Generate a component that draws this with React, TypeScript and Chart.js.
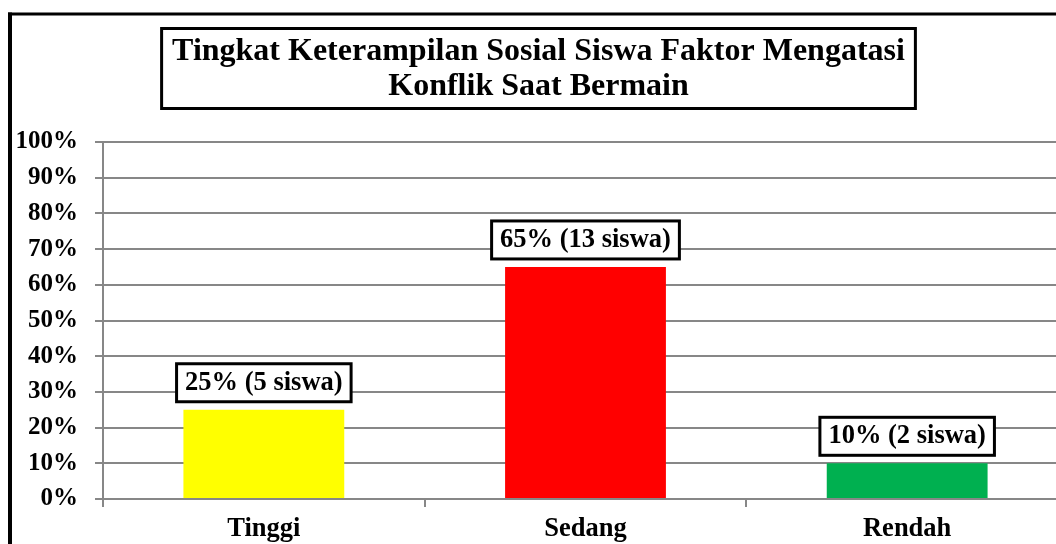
import React, { useEffect, useRef } from "react";
import { Chart, registerables } from "chart.js";

Chart.register(...registerables);

const categories = ["Tinggi", "Sedang", "Rendah"];
const percentages = [25, 65, 10];
const studentCounts = [5, 13, 2];
const barColors = ["#FFFF00", "#FF0000", "#00B050"];
const titleLines = ["Tingkat Keterampilan Sosial Siswa Faktor Mengatasi", "Konflik Saat Bermain"];

const FONT = '"Liberation Serif", "Times New Roman", serif';
const GRID = "#878787";
const W = 1078;
const H = 560;
const TITLE_PAD_TOP = 34.4;

const framePlugin = {
  id: "frame",
  afterDraw(chart: any) {
    const ctx = chart.ctx;
    ctx.save();
    // outer chart border (top and left visible)
    ctx.strokeStyle = "#000";
    ctx.lineWidth = 3;
    ctx.beginPath();
    ctx.moveTo(8, 14);
    ctx.lineTo(W, 14);
    ctx.stroke();
    ctx.lineWidth = 4;
    ctx.beginPath();
    ctx.moveTo(10, 12.5);
    ctx.lineTo(10, H);
    ctx.stroke();
    // title box
    const tb = chart.titleBlock;
    if (tb) {
      ctx.font = `bold 32px ${FONT}`;
      let maxW = 0;
      titleLines.forEach((t) => {
        maxW = Math.max(maxW, ctx.measureText(t).width);
      });
      const cx = (tb.left + tb.right) / 2;
      const left = cx - maxW / 2 - 10.5;
      const right = cx + maxW / 2 + 10.5;
      const top = tb.top + TITLE_PAD_TOP - 5.9;
      const bottom = tb.top + TITLE_PAD_TOP + 74.1;
      ctx.lineWidth = 3;
      ctx.strokeRect(left, top, right - left, bottom - top);
    }
    ctx.restore();
  },
};

const labelPlugin = {
  id: "barLabels",
  afterDatasetsDraw(chart: any) {
    const ctx = chart.ctx;
    const meta = chart.getDatasetMeta(0);
    ctx.save();
    ctx.font = `bold 26.5px ${FONT}`;
    meta.data.forEach((bar: any, i: number) => {
      const text = `${percentages[i]}% (${studentCounts[i]} siswa)`;
      const w = ctx.measureText(text).width + 17;
      const h = 38;
      const x = bar.x;
      const bottom = bar.y - 8;
      ctx.fillStyle = "#fff";
      ctx.fillRect(x - w / 2, bottom - h, w, h);
      ctx.lineWidth = 3;
      ctx.strokeStyle = "#000";
      ctx.strokeRect(x - w / 2, bottom - h, w, h);
      ctx.fillStyle = "#000";
      ctx.textAlign = "center";
      ctx.textBaseline = "middle";
      ctx.fillText(text, x, bottom - h / 2);
    });
    ctx.restore();
  },
};

export default function App() {
  const ref = useRef<HTMLCanvasElement | null>(null);
  useEffect(() => {
    if (!ref.current) return;
    const chart = new Chart(ref.current, {
      type: "bar",
      data: {
        labels: categories,
        datasets: [
          {
            data: percentages,
            backgroundColor: barColors,
            borderWidth: 0,
            barPercentage: 0.5,
            categoryPercentage: 1.0,
          },
        ],
      },
      options: {
        responsive: false,
        animation: false,
        layout: { padding: { left: 9, right: W - 1068, top: 0, bottom: 0 } },
        plugins: {
          legend: { display: false },
          tooltip: { enabled: false },
          title: {
            display: true,
            text: titleLines,
            color: "#000",
            font: { family: FONT, size: 32, weight: "bold", lineHeight: "35px" },
            padding: { top: TITLE_PAD_TOP, bottom: 142 - TITLE_PAD_TOP - 70 },
          },
        },
        scales: {
          x: {
            grid: {
              display: true,
              drawOnChartArea: false,
              drawTicks: true,
              tickLength: 8,
              color: GRID,
              lineWidth: 2,
            },
            border: { display: true, color: GRID, width: 2 },
            ticks: {
              color: "#000",
              font: { family: FONT, size: 26.5, weight: "bold" },
              padding: 6,
            },
            afterFit: (scale: any) => {
              scale.height = H - 499;
            },
          },
          y: {
            min: 0,
            max: 100,
            ticks: {
              stepSize: 10,
              color: "#000",
              font: { family: FONT, size: 25, weight: "bold" },
              padding: 17,
              callback: (v: any) => `${v}%`,
            },
            grid: { color: GRID, lineWidth: 2, tickLength: 8 },
            border: { display: true, color: GRID, width: 2 },
            afterFit: (scale: any) => {
              scale.width = 94;
            },
          },
        },
      },
      plugins: [labelPlugin, framePlugin],
    });
    return () => chart.destroy();
  }, []);
  return (
    <div
      style={{
        position: "fixed",
        left: 0,
        top: 0,
        width: 1056,
        height: 544,
        overflow: "hidden",
        background: "#fff",
      }}
    >
      <canvas ref={ref} width={W} height={H} style={{ display: "block", width: W, height: H }} />
    </div>
  );
}
